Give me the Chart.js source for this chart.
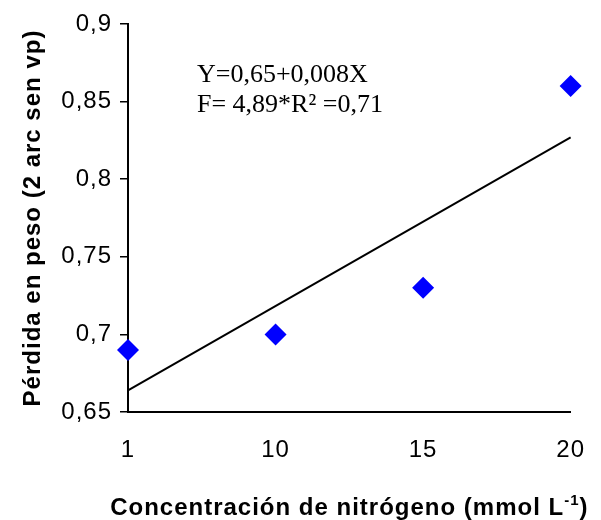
<!DOCTYPE html>
<html>
<head>
<meta charset="utf-8">
<script src="https://cdn.jsdelivr.net/npm/chart.js@4.4.1/dist/chart.umd.min.js"></script>
<style>
  html, body { margin: 0; padding: 0; background: #fff; }
  canvas { display: block; }
</style>
</head>
<body>
<canvas id="chart" width="601" height="520"></canvas>
<script>
// values
const doses = ['1', '10', '15', '20'];
const weightLoss = [0.69, 0.70, 0.73, 0.86];
const trendEnds = [{ x: '1', y: 0.664 }, { x: '20', y: 0.827 }];
const equationLines = ['Y=0,65+0,008X', 'F= 4,89*R\u00B2 =0,71'];

const sans = '"Liberation Sans", Arial, sans-serif';
const serif = '"Liberation Serif", "Times New Roman", serif';

function fmt(v) {
    return Number(v.toFixed(2)).toString().replace('.', ',');
}

const spacing = {
    id: 'spacing',
    beforeUpdate(chart) { chart.ctx.letterSpacing = '1px'; },
    beforeDraw(chart) { chart.ctx.letterSpacing = '1px'; }
};

const extras = {
    id: 'extras',
    afterDraw(chart) {
        const ctx = chart.ctx;
        // regression text
        ctx.save();
        ctx.letterSpacing = '0px';
        ctx.fillStyle = '#000';
        ctx.font = '26px ' + serif;
        ctx.textAlign = 'left';
        ctx.textBaseline = 'alphabetic';
        ctx.fillText(equationLines[0], 197, 82);
        ctx.fillText(equationLines[1], 197, 112);
        ctx.restore();

        // x axis title with superscript
        ctx.save();
        ctx.letterSpacing = '1px';
        ctx.fillStyle = '#000';
        ctx.textBaseline = 'alphabetic';
        ctx.textAlign = 'left';
        const main = 'Concentraci\u00F3n de nitr\u00F3geno (mmol L';
        const sup = '-1';
        const end = ')';
        const big = 'bold 24px ' + sans;
        const small = 'bold 15px ' + sans;
        ctx.font = big;
        const w1 = ctx.measureText(main).width;
        const w3 = ctx.measureText(end).width;
        ctx.font = small;
        const w2 = ctx.measureText(sup).width;
        const cx = (chart.chartArea.left + chart.chartArea.right) / 2;
        let x = cx - (w1 + w2 + w3) / 2;
        const y = 515;
        ctx.font = big;
        ctx.fillText(main, x, y);
        x += w1;
        ctx.font = small;
        ctx.fillText(sup, x, y - 10);
        x += w2;
        ctx.font = big;
        ctx.fillText(end, x, y);
        ctx.restore();
    }
};

new Chart(document.getElementById('chart').getContext('2d'), {
    type: 'line',
    data: {
        labels: doses,
        datasets: [
            {
                label: 'trend',
                data: trendEnds,
                borderColor: '#000',
                borderWidth: 2,
                pointRadius: 0,
                fill: false,
                tension: 0
            },
            {
                label: 'obs',
                data: weightLoss,
                showLine: false,
                pointStyle: 'rectRot',
                pointRadius: 11,
                pointBackgroundColor: '#0000FF',
                pointBorderWidth: 0,
                clip: false
            }
        ]
    },
    options: {
        responsive: false,
        animation: false,
        events: [],
        layout: { padding: { left: 0, right: 24, top: 24, bottom: 0 } },
        plugins: {
            legend: { display: false },
            tooltip: { enabled: false }
        },
        scales: {
            x: {
                offset: false,
                grid: { display: false },
                border: { display: true, color: '#000', width: 2 },
                ticks: {
                    color: '#000',
                    padding: 16,
                    maxRotation: 0,
                    font: { family: sans, size: 24 }
                },
                afterFit(scale) { scale.height = 108; }
            },
            y: {
                min: 0.65,
                max: 0.9,
                grid: {
                    drawOnChartArea: false,
                    drawTicks: true,
                    tickLength: 8,
                    color: '#000',
                    lineWidth: 1.5
                },
                border: { display: true, color: '#000', width: 2 },
                ticks: {
                    stepSize: 0.05,
                    color: '#000',
                    padding: 8,
                    font: { family: sans, size: 24 },
                    callback: (v) => fmt(v)
                },
                title: {
                    display: true,
                    text: 'P\u00E9rdida en peso (2 arc sen vp)',
                    color: '#000',
                    font: { family: sans, size: 24, weight: 'bold' },
                    padding: { top: 19, bottom: 0 }
                },
                afterFit(scale) { scale.width = 128; }
            }
        }
    },
    plugins: [spacing, extras]
});
</script>
</body>
</html>
